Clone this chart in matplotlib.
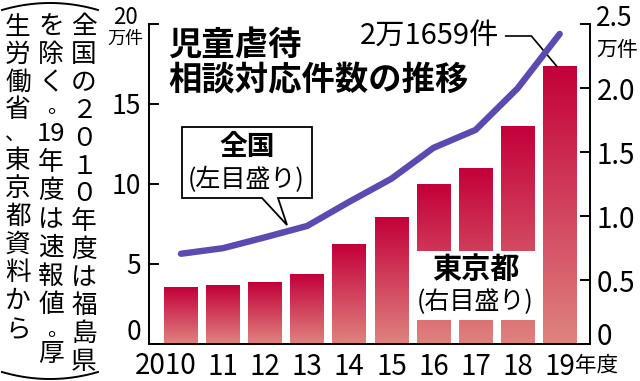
import numpy as np
import matplotlib
matplotlib.use('Agg')
import matplotlib.pyplot as plt
from matplotlib.patches import Polygon, Rectangle
from matplotlib.lines import Line2D
from matplotlib.colors import LinearSegmentedColormap

# ---- data (万件) ----
years = ['2010', '11', '12', '13', '14', '15', '16', '17', '18', '19']
national = [5.64, 5.99, 6.67, 7.38, 8.89, 10.33, 12.26, 13.38, 15.98, 19.38]
tokyo = [0.445, 0.456, 0.479, 0.541, 0.781, 0.991, 1.249, 1.371, 1.697, 2.1659]
left_ticks = [0, 5, 10, 15, 20]
left_labels = ['0', '5', '10', '15', '20']
right_ticks = [0, 0.5, 1.0, 1.5, 2.0, 2.5]
right_labels = ['0', '0.5', '1.0', '1.5', '2.0', '2.5']

JP = 'Noto Sans CJK JP'
plt.rcParams['font.family'] = [JP, 'DejaVu Sans']

W, H = 640, 381
fig = plt.figure(figsize=(6.4, 3.81), dpi=100)
fig.patch.set_facecolor('white')


def fx(px):
    return px / W


def fy(py):
    return 1 - py / H


ax = fig.add_axes([fx(149), fy(344), fx(590) - fx(149), fy(24) - fy(344)])
ax2 = ax.twinx()
ax.set_zorder(ax2.get_zorder() + 1)
ax.patch.set_visible(False)

xs = np.arange(len(years))

# ---- bars with vertical gradient (right axis) ----
bars = ax2.bar(xs, tokyo, width=0.8, color='none', edgecolor='none')
grad = np.linspace(0, 1, 256).reshape(-1, 1)
cmap = LinearSegmentedColormap.from_list('g', ['#df837f', '#c3003a'])
for b in bars:
    x0, y0 = b.get_x(), b.get_y()
    w, h = b.get_width(), b.get_height()
    ax2.imshow(grad, extent=(x0, x0 + w, y0, y0 + h), origin='lower',
               cmap=cmap, aspect='auto', zorder=1, interpolation='bilinear')

# white gap for Tokyo label
ax2.add_patch(Rectangle((5.5, 0.19), 3.0, 0.54, facecolor='white',
                        edgecolor='none', zorder=3))
ax2.text(7, 0.585, '東京都', ha='center', va='center', fontsize=21,
         fontweight='bold', zorder=4)
ax2.text(7, 0.33, '(右目盛り)', ha='center', va='center', fontsize=18,
         zorder=4)

# ---- national line (left axis) ----
ax.plot(xs, national, color='#5a4bb2', lw=4.6, solid_capstyle='round',
        solid_joinstyle='round', zorder=5)

# ---- axes styling ----
ax.set_xlim(-0.76, 9.72)
ax.set_ylim(0, 20)
ax2.set_ylim(0, 2.5)

for a in (ax, ax2):
    a.spines['top'].set_visible(False)
    for s in a.spines.values():
        s.set_linewidth(1.4)
ax.spines['right'].set_visible(False)
ax2.spines['left'].set_visible(False)
ax2.spines['bottom'].set_visible(False)

ax.set_yticks(left_ticks, [''] + left_labels[1:-1] + [''])
ax.tick_params(axis='y', direction='in', length=7.5, width=1.4,
               labelsize=19, pad=6)
ax2.set_yticks(right_ticks, [''] + right_labels[1:-1] + [''])
ax2.tick_params(axis='y', direction='in', length=7.5, width=1.4,
                labelsize=20, pad=5)
ax.set_xticks(xs, [''] + years[1:])
ax.tick_params(axis='x', length=0, pad=6, labelsize=20)

# manual labels
fig.text(fx(166), fy(366), years[0], ha='center', va='center', fontsize=20)
fig.text(fx(575), fy(366), '年度', ha='left', va='center', fontsize=15.5)
fig.text(fx(141), fy(333), left_labels[0], ha='right', va='center', fontsize=19)
fig.text(fx(125), fy(17), left_labels[-1], ha='center', va='center', fontsize=16)
fig.text(fx(125), fy(39), '万件', ha='center', va='center', fontsize=13)
fig.text(fx(597), fy(337), right_labels[0], ha='left', va='center', fontsize=20)
fig.text(fx(596), fy(18), right_labels[-1], ha='left', va='center', fontsize=19)
fig.text(fx(596), fy(50), '万件', ha='left', va='center', fontsize=15)

# ---- title ----
fig.text(fx(168), fy(46), '児童虐待', ha='left', va='center', fontsize=24,
         fontweight='bold')
fig.text(fx(168), fy(81), '相談対応件数の推移', ha='left', va='center',
         fontsize=24, fontweight='bold')

# ---- 2万1659件 annotation ----
ax2.annotate('2万1659件', xy=(xs[-1] - 0.06, tokyo[-1]),
             xycoords='data', xytext=(fx(429), fy(36)),
             textcoords='figure fraction', ha='center', va='center',
             fontsize=21,
             arrowprops=dict(arrowstyle='-', color='black', lw=1.2,
                             relpos=(1, 0.5), shrinkA=3, shrinkB=0,
                             connectionstyle='angle,angleA=0,angleB=130,rad=0'),
             zorder=6)

# ---- callout for national ----
pts = [(182, 127), (312, 127), (312, 198), (278, 198), (287, 225),
       (262, 198), (182, 198)]
poly = Polygon([(fx(a), fy(b)) for a, b in pts], closed=True,
               transform=fig.transFigure, facecolor='white',
               edgecolor='black', lw=1.3, zorder=7)
fig.patches.append(poly)
fig.text(fx(247), fy(147), '全国', ha='center', va='center', fontsize=20,
         fontweight='bold', zorder=8)
fig.text(fx(246), fy(180), '(左目盛り)', ha='center', va='center',
         fontsize=18, zorder=8)

# ---- vertical note on the left ----
col1 = list('全国の２０１０年度は福島県')
col1_y = [27 + i * 27.9 for i in range(len(col1))]
col2 = ['を', '除', 'く', '。', '19', '年', '度', 'は', '速', '報', '値', '。', '厚']
col2_y = [27, 55, 83, 107, 134, 162.5, 191, 219.5, 248, 276.5, 305, 330, 354]
col3 = ['生', '労', '働', '省', '、', '東', '京', '都', '資', '料', 'か', 'ら']
col3_y = [28, 55, 83, 110, 134, 161, 189, 217, 245, 273, 301, 330]


def draw_col(chars, ys, xc):
    for ch, yy in zip(chars, ys):
        if ch == '。':
            fig.text(fx(xc + 7), fy(yy), ch, ha='center', va='center',
                     fontsize=15)
        elif ch == '、':
            fig.text(fx(xc - 3), fy(yy), ch, ha='center', va='center',
                     fontsize=15)
        else:
            fig.text(fx(xc), fy(yy), ch, ha='center', va='center',
                     fontsize=18.5)


draw_col(col1, col1_y, 84)
draw_col(col2, col2_y, 51)
draw_col(col3, col3_y, 18)

tt = np.linspace(-1, 1, 60)
xa = 50 + 48 * tt
fig.lines.append(Line2D([fx(v) for v in xa],
                        [fy(v) for v in 10 - 7 * (1 - tt ** 2)],
                        transform=fig.transFigure, color='black', lw=1.4))
fig.lines.append(Line2D([fx(v) for v in xa],
                        [fy(v) for v in 372 + 7 * (1 - tt ** 2)],
                        transform=fig.transFigure, color='black', lw=1.4))

fig.savefig('out.png', dpi=100)
